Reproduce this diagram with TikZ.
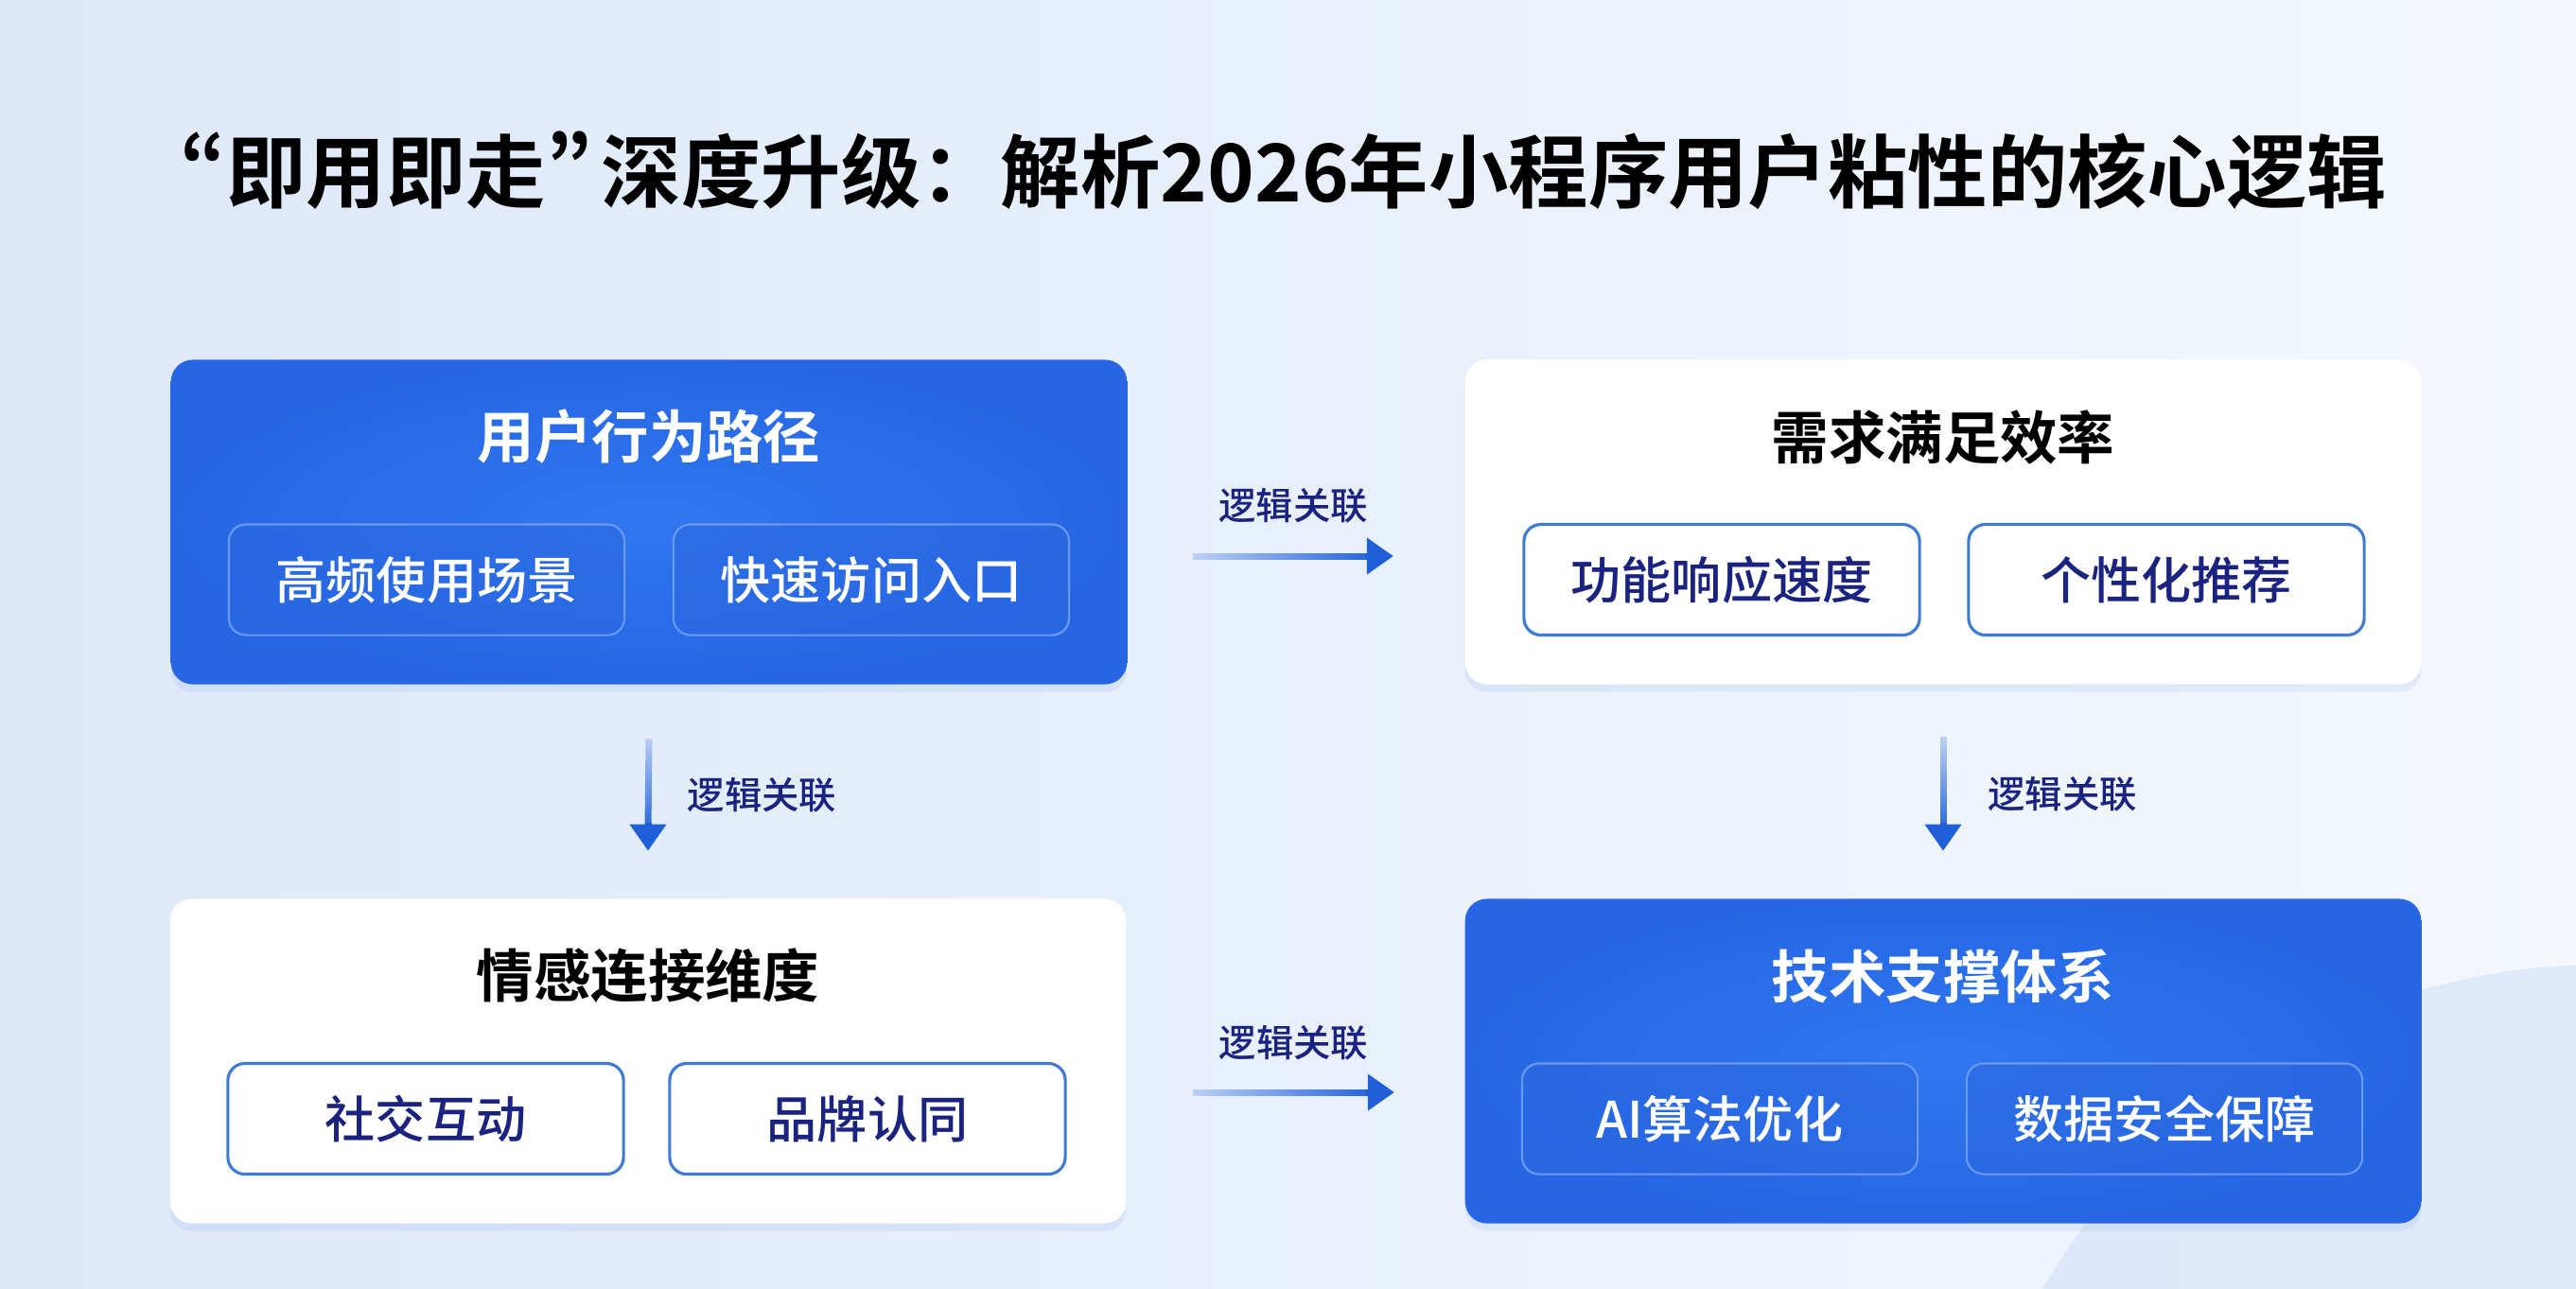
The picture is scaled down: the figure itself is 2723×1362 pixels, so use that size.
\documentclass[tikz,border=0pt]{standalone}
\usepackage{fontspec}
\newfontfamily\cjk{Noto Sans CJK SC Medium}
\newfontfamily\cjkb{Noto Sans CJK SC Bold}
\usetikzlibrary{arrows.meta,fadings,shadows}

\definecolor{cardlight}{HTML}{3077F1}
\definecolor{carddark}{HTML}{2666E4}
\definecolor{itemblue}{HTML}{2A68E2}
\definecolor{itemline}{HTML}{6A9AF4}
\definecolor{itemborder}{HTML}{3F7BD4}
\definecolor{navy}{HTML}{1B2380}
\definecolor{arrowblue}{HTML}{1F60DA}
\definecolor{bgblue}{HTML}{DDE8F9}
\definecolor{bglight}{HTML}{F4F8FD}
\definecolor{shadowblue}{HTML}{8FB2EE}
\definecolor{blobblue}{HTML}{D6E5FA}

\tikzfading[name=fadeh, left color=transparent!80, right color=transparent!0]
\tikzfading[name=fadev, top color=transparent!80, bottom color=transparent!0]

\tikzset{
  card/.style={rounded corners=0.23cm, minimum width=10.1cm, minimum height=3.43cm,
    drop shadow={shadow xshift=0cm, shadow yshift=-0.08cm, opacity=0.18, fill=shadowblue}},
  bluecard/.style={card, inner color=cardlight, outer color=carddark},
  whitecard/.style={card, fill=white},
  cardtitle/.style={font=\cjkb\fontsize{17.2}{20}\selectfont, text=black},
  item/.style={rounded corners=0.18cm, minimum width=4.18cm, minimum height=1.17cm,
    font=\cjk\fontsize{15.1}{18}\selectfont},
  blueitem/.style={item, draw=itemline, line width=0.6pt, fill=itemblue, fill opacity=0.6, text opacity=1, text=white},
  whiteitem/.style={item, draw=itemborder, line width=0.9pt, fill=white, text=navy},
  shaft/.style={line width=0.07cm, draw=arrowblue},
  link/.style={line width=0.07cm, draw=arrowblue, -{Triangle[length=0.28cm,width=0.37cm]}},
  linklabel/.style={font=\cjk\fontsize{11.2}{13}\selectfont, text=navy},
}

\begin{document}
\begin{tikzpicture}[x=0.01cm,y=-0.01cm]
\useasboundingbox (0,0) rectangle (2723,1362);
% background
\shade[left color=bgblue, right color=bglight] (0,0) rectangle (2723,1362);
\fill[blobblue, opacity=0.7] (2750,1700) circle (680);

% title
\node[font=\cjkb\fontsize{24}{28}\selectfont, text=black] (title) at (1357,180)
  {{\addfontfeature{CharacterWidth=Proportional}“}即用即走{\addfontfeature{CharacterWidth=Proportional}”}\hspace{0.12em}深度升级：解析2026年小程序用户粘性的核心逻辑};

% cards
\node[bluecard] (path) at (686,552) {};
\node[cardtitle, text=white] (pathtitle) at (686,462) {用户行为路径};
\node[blueitem] (freq) at (451,613) {高频使用场景};
\node[blueitem] (entry) at (921,613) {快速访问入口};

\node[whitecard] (need) at (2054,552) {};
\node[cardtitle] (needtitle) at (2054,462) {需求满足效率};
\node[whiteitem] (speed) at (1820,613) {功能响应速度};
\node[whiteitem] (recom) at (2290,613) {个性化推荐};

\node[whitecard] (emo) at (685,1122) {};
\node[cardtitle] (emotitle) at (685,1032) {情感连接维度};
\node[whiteitem] (social) at (450,1183) {社交互动};
\node[whiteitem] (brand) at (917,1183) {品牌认同};

\node[bluecard] (tech) at (2054,1122) {};
\node[cardtitle, text=white] (techtitle) at (2054,1032) {技术支撑体系};
\node[blueitem] (algo) at (1818,1183) {AI算法优化};
\node[blueitem] (safe) at (2288,1183) {数据安全保障};

% links
\coordinate (a1) at ([xshift=0.69cm,yshift=-0.36cm]path.east);
\coordinate (b1) at ([xshift=-0.75cm,yshift=-0.36cm]need.west);
\coordinate (a2) at ([xshift=0.70cm,yshift=-0.33cm]emo.east);
\coordinate (b2) at ([xshift=-0.74cm,yshift=-0.33cm]tech.west);
\coordinate (a3) at ([yshift=-0.57cm]path.south);
\coordinate (b3) at ([yshift=0.50cm]emo.north);
\coordinate (a4) at ([yshift=-0.55cm]need.south);
\coordinate (b4) at ([yshift=0.50cm]tech.north);

\draw[shaft, path fading=fadeh] (a1) -- ([xshift=-0.2cm]b1);
\draw[link] ([xshift=-0.3cm]b1) -- (b1);
\draw[shaft, path fading=fadeh] (a2) -- ([xshift=-0.2cm]b2);
\draw[link] ([xshift=-0.3cm]b2) -- (b2);
\draw[shaft, path fading=fadev] (a3) -- ([yshift=0.2cm]b3);
\draw[link] ([yshift=0.3cm]b3) -- (b3);
\draw[shaft, path fading=fadev] (a4) -- ([yshift=0.2cm]b4);
\draw[link] ([yshift=0.3cm]b4) -- (b4);

\path (a1) -- (b1) node[linklabel, midway, yshift=0.53cm] (l1) {逻辑关联};
\path (a2) -- (b2) node[linklabel, midway, yshift=0.52cm] (l2) {逻辑关联};
\path (a3) -- (b3) node[linklabel, midway, xshift=1.2cm] (l3) {逻辑关联};
\path (a4) -- (b4) node[linklabel, midway, xshift=1.26cm] (l4) {逻辑关联};
\end{tikzpicture}
\end{document}
